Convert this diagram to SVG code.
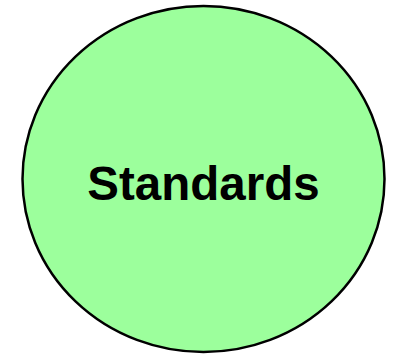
<svg xmlns="http://www.w3.org/2000/svg" width="398" height="357" viewBox="0 0 398 357">
  <style>
    .node { fill: #9cff9c; stroke: #000000; stroke-width: 2.5; }
    .label { font-family: "Liberation Sans", Arial, sans-serif; font-weight: bold; fill: #000000; text-anchor: middle; }
  </style>
  <rect x="0" y="0" width="398" height="357" fill="#ffffff"/>
  <g id="connectors"></g>
  <g id="standards">
    <ellipse class="node" cx="203.5" cy="179" rx="181" ry="173"/>
    <text class="label" x="203.5" y="199.5" font-size="47.5">Standards</text>
  </g>
</svg>
